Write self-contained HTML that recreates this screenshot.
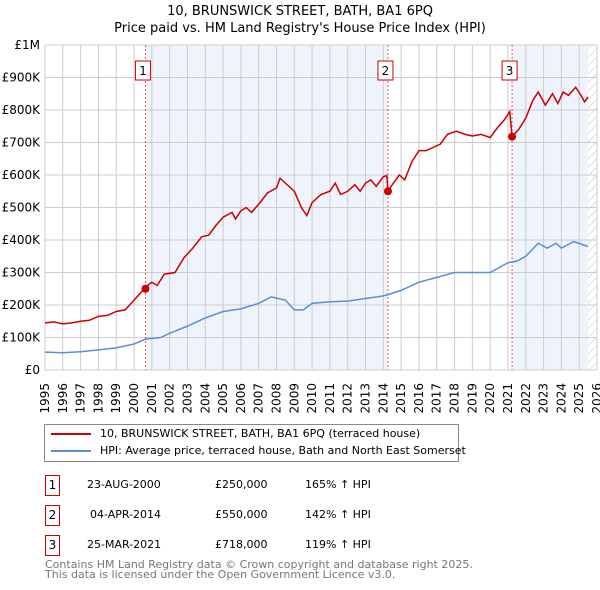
<!DOCTYPE html>
<html><head><meta charset="utf-8"><style>
body{margin:0;width:600px;height:590px;background:#fff;font-family:"DejaVu Sans","Liberation Sans",sans-serif;overflow:hidden;position:relative}
.t{position:absolute;white-space:nowrap}
.box{position:absolute;border:1px solid #c00;width:13px;height:19px;font-size:12px;text-align:center;line-height:19px}
</style></head><body>
<div class="t" style="left:0;width:600px;text-align:center;top:3px;font-size:13px;line-height:17px">10, BRUNSWICK STREET, BATH, BA1 6PQ<br>Price paid vs. HM Land Registry's House Price Index (HPI)</div>
<svg id="ch" width="600" height="420" style="position:absolute;left:0;top:0" font-family="DejaVu Sans, Liberation Sans, sans-serif"></svg>
<div style="position:absolute;left:44px;top:424px;width:413px;height:36px;border:1px solid #888"></div>
<div style="position:absolute;left:51px;top:433px;width:40px;height:2px;background:#c00"></div>
<div class="t" style="left:100px;top:427px;font-size:11px">10, BRUNSWICK STREET, BATH, BA1 6PQ (terraced house)</div>
<div style="position:absolute;left:51px;top:450px;width:40px;height:2px;background:#5b8fd6"></div>
<div class="t" style="left:100px;top:444px;font-size:11px">HPI: Average price, terraced house, Bath and North East Somerset</div>
<div class="box" style="left:45px;top:475px">1</div>
<div class="t" style="left:87px;top:478px;font-size:11px">23-AUG-2000</div>
<div class="t" style="left:215px;top:478px;font-size:11px">£250,000</div>
<div class="t" style="left:305px;top:478px;font-size:11px">165% ↑ HPI</div>
<div class="box" style="left:45px;top:505px">2</div>
<div class="t" style="left:90px;top:508px;font-size:11px">04-APR-2014</div>
<div class="t" style="left:215px;top:508px;font-size:11px">£550,000</div>
<div class="t" style="left:305px;top:508px;font-size:11px">142% ↑ HPI</div>
<div class="box" style="left:45px;top:535px">3</div>
<div class="t" style="left:87px;top:538px;font-size:11px">25-MAR-2021</div>
<div class="t" style="left:215px;top:538px;font-size:11px">£718,000</div>
<div class="t" style="left:305px;top:538px;font-size:11px">119% ↑ HPI</div>
<div class="t" style="left:45px;top:560px;font-size:11px;line-height:10px;color:#777">Contains HM Land Registry data © Crown copyright and database right 2025.<br>This data is licensed under the Open Government Licence v3.0.</div>
<script>
const redYears=[1995,1995.5,1996,1996.5,1997,1997.5,1998,1998.5,1999,1999.5,2000,2000.5,2000.64,2001,2001.3,2001.7,2002.3,2002.8,2003.3,2003.8,2004.2,2004.6,2005,2005.5,2005.7,2006,2006.3,2006.6,2007,2007.5,2008,2008.2,2008.6,2009,2009.4,2009.7,2010,2010.5,2011,2011.3,2011.6,2012,2012.4,2012.7,2013,2013.3,2013.6,2014,2014.2,2014.26,2014.5,2014.9,2015.2,2015.6,2016,2016.4,2016.8,2017.2,2017.6,2018.1,2018.6,2019,2019.5,2020,2020.4,2020.8,2021.1,2021.23,2021.6,2022,2022.4,2022.7,2023.1,2023.5,2023.8,2024.1,2024.4,2024.8,2025.1,2025.3,2025.5];
const redVals=[145,148,142,145,150,153,165,168,180,185,215,245,255,270,260,295,300,345,375,410,415,445,470,485,465,490,500,485,510,545,560,590,570,550,500,475,515,540,550,575,540,550,570,550,575,585,565,595,598,550,570,600,585,640,675,675,685,695,725,735,725,720,725,715,745,770,795,718,740,775,830,855,815,850,820,855,845,870,845,825,840];
const hpiYears=[1995,1996,1997,1998,1999,2000,2000.64,2001.5,2002,2003,2004,2005,2006,2007,2007.7,2008.5,2009,2009.5,2010,2011,2012,2013,2014,2014.26,2015,2016,2017,2018,2019,2020,2021,2021.5,2022,2022.7,2023.2,2023.7,2024,2024.7,2025.5];
const hpiVals=[55,53,56,62,68,80,95,100,113,135,160,180,188,205,225,215,185,185,205,210,212,220,228,232,245,270,285,300,300,300,330,335,350,390,375,390,375,395,380];
const saleYears=[2000.64,2014.26,2021.23];
const saleVals=[250,550,718];
const saleLabels=["1","2","3"];
const yTicks=[0,100,200,300,400,500,600,700,800,900,1000];
const yTickLabels=["£0","£100K","£200K","£300K","£400K","£500K","£600K","£700K","£800K","£900K","£1M"];
const X0=45,X1=597,Y0=370,Y1=45;
const xs=y=>X0+(y-1995)/31*(X1-X0);
const ys=v=>Y0-v/1000*(Y0-Y1);
const svg=document.getElementById('ch');const NS='http://www.w3.org/2000/svg';
function mk(t,a,p){const e=document.createElementNS(NS,t);for(const k in a)e.setAttribute(k,a[k]);(p||svg).appendChild(e);return e;}
let e;
e=mk('rect',{x:xs(saleYears[0]),y:Y1,width:xs(saleYears[1])-xs(saleYears[0]),height:Y0-Y1,fill:'#eef3fc'});


e=mk('rect',{x:xs(saleYears[2]),y:Y1,width:xs(2025.5)-xs(saleYears[2]),height:Y0-Y1,fill:'#eef3fc'});


const defs=mk('defs',{});const pat=mk('pattern',{id:'h',width:6,height:6,patternUnits:'userSpaceOnUse',patternTransform:'rotate(45)'},defs);mk('line',{x1:0,y1:0,x2:0,y2:6,stroke:'#bbb','stroke-width':1},pat);
e=mk('rect',{x:xs(2025.5),y:Y1,width:X1-xs(2025.5),height:Y0-Y1,fill:'url(#h)'});


for(let y=1995;y<=2026;y++){
 e=mk('line',{x1:xs(y),x2:xs(y),y1:Y1,y2:Y0,stroke:'#ccc','stroke-width':1});
 
 
 const tx=xs(y)+4,ty=383;
 e=mk('text',{x:tx,y:ty,'font-size':12,'text-anchor':'end',fill:'#000',transform:`rotate(-90 ${tx} ${ty})`});e.textContent=y;
 
 
}
yTicks.forEach((v,i)=>{
 e=mk('line',{x1:X0,x2:X1,y1:ys(v),y2:ys(v),stroke:'#ccc','stroke-width':1});
 
 
 e=mk('text',{x:40,y:ys(v)+4,'font-size':12,'text-anchor':'end'});e.textContent=yTickLabels[i];
 
 
});
e=mk('line',{x1:X0,x2:X0,y1:Y1,y2:Y0,stroke:'#ccc'});


saleYears.forEach((y,i)=>{
 e=mk('line',{x1:xs(y),x2:xs(y),y1:Y1,y2:Y0,stroke:'#e55','stroke-width':1,'stroke-dasharray':'2,2'});
 
 
 const bx=xs(y)-9;
 e=mk('rect',{x:bx-1,y:61,width:15,height:19,fill:'#fff',stroke:'#c00'});
 
 
 e=mk('text',{x:bx+6.5,y:75,'font-size':12,'text-anchor':'middle'});e.textContent=saleLabels[i];
 
 
});
e=mk('polyline',{points:hpiYears.map((y,i)=>xs(y)+','+ys(hpiVals[i])).join(' '),fill:'none',stroke:'#5b8fd6','stroke-width':1.5});


e=mk('polyline',{points:redYears.map((y,i)=>xs(y)+','+ys(redVals[i])).join(' '),fill:'none',stroke:'#c00','stroke-width':1.5});


saleYears.forEach((y,i)=>{
 e=mk('circle',{cx:xs(y),cy:ys(saleVals[i]),r:4,fill:'#c00'});
 
 
});
</script>
</body></html>
